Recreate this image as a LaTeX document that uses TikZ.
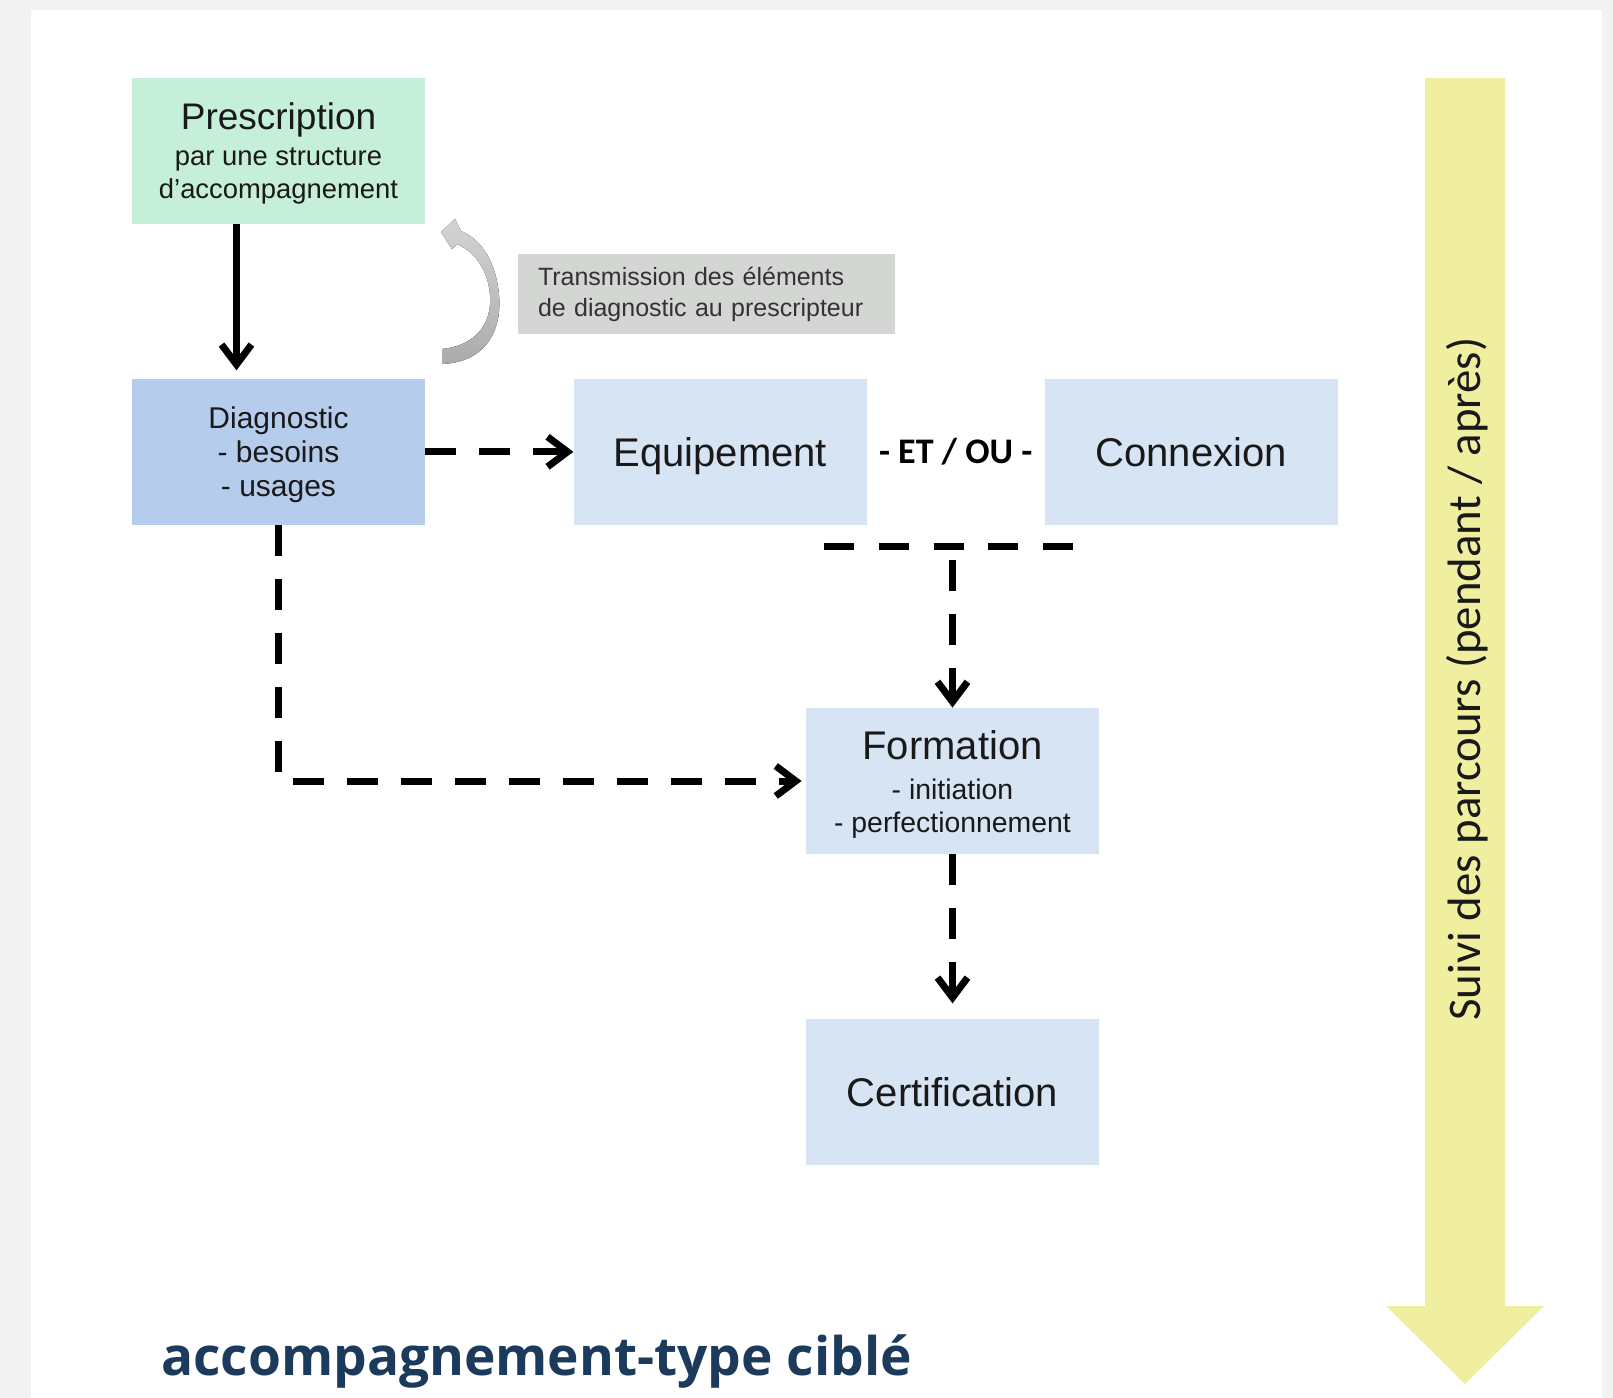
\documentclass[tikz,border=0pt]{standalone}
\usepackage{fontspec}
\setmainfont{Liberation Sans}
\newfontfamily\calibri{Carlito}
\newfontfamily\opensans{Open Sans}
\usetikzlibrary{arrows.meta,positioning,calc}
\definecolor{presc}{RGB}{198,239,217}
\definecolor{diag}{RGB}{182,204,236}
\definecolor{act}{RGB}{215,228,243}
\definecolor{note}{RGB}{211,214,211}
\definecolor{suivi}{RGB}{240,239,160}
\definecolor{titre}{RGB}{27,58,92}
\definecolor{fond}{RGB}{242,242,242}
\tikzset{
  basebox/.style = {align=center, inner sep=0pt, minimum width=146.5pt, minimum height=73pt,
    text depth=0pt, text=black!90},
  prescbox/.style = {basebox, fill=presc, font=\fontsize{13.7pt}{16.5pt}\selectfont},
  diagbox/.style = {basebox, fill=diag, font=\fontsize{15pt}{17pt}\selectfont},
  actbox/.style = {basebox, fill=act, font=\fontsize{20pt}{24pt}\selectfont},
  notebox/.style = {fill=note, align=left, inner sep=0pt, minimum width=188.5pt, minimum height=40pt,
    text width=168.5pt, font=\fontsize{12.5pt}{15.5pt}\selectfont, text=black!80},
  flow/.style = {line width=3.5pt, -{Straight Barb[length=10pt,width=15pt]}},
  dflow/.style = {flow, dash pattern=on 15.5pt off 11.5pt}
}
\begin{document}
\begin{tikzpicture}[x=0.5pt, y=-0.5pt]
\useasboundingbox (0,0) rectangle (1613,1398);
\fill[fond] (0,0) rectangle (1613,1398);
\fill[white] (31,10) rectangle (1602,1398);
% suivi du parcours
\fill[suivi] (1425,78) -- (1505,78) -- (1505,1306) -- (1544,1306) -- (1465,1384)
  -- (1386,1306) -- (1425,1306) -- cycle;
\node[rotate=90, text=black!90, font=\calibri\fontsize{23.4pt}{28pt}\selectfont] (suivi) at (1467,679)
  {Suivi des parcours (pendant / après)};
% boites
\node[prescbox] (presc) at (278.5,151)
  {{\fontsize{18.5pt}{22pt}\selectfont Prescription}\\[1.5pt] par une structure\\ d'accompagnement};
\node[diagbox, below=77pt of presc] (diag) {Diagnostic\\ - besoins\\ - usages};
\node[actbox, right=74pt of diag] (equip) {Equipement};
\node[actbox, right=88.5pt of equip] (conn) {Connexion};
\node[font=\calibri\bfseries\fontsize{18pt}{22pt}\selectfont] (etou)
  at ($(equip.east)!0.5!(conn.west)$) {- ET / OU -};
\node[actbox, font=\fontsize{14.2pt}{16.5pt}\selectfont] (form) at (952.5,781)
  {{\fontsize{20pt}{24pt}\selectfont Formation}\\[3.5pt] - initiation\\ - perfectionnement};
\node[actbox, below=82pt of form] (cert) {Certification};
\node[notebox] (trans) at (706.5,294)
  {Transmission des éléments\\ de diagnostic au prescripteur};
% retour vers le prescripteur
\fill[top color=black!17, bottom color=black!33] (442,364) .. controls (490,362) and (502,325) .. (499,295)
  .. controls (496,262) and (482,240) .. (461,231) -- (455,219) -- (441,232) -- (452,249) -- (457,244)
  .. controls (475,252) and (488,270) .. (490,295) .. controls (492,322) and (478,345) .. (442,349) -- cycle;
% liens
\coordinate (hl) at ([xshift=-21.5pt,yshift=-10.5pt]equip.south east);
\coordinate (hr) at ([xshift=14.5pt,yshift=-10.5pt]conn.south west);
\draw[flow, shorten >=4pt] ([xshift=-21pt]presc.south) -- ([xshift=-21pt]diag.north);
\draw[dflow] (diag.east) -- (equip.west);
\draw[line width=3.5pt, dash pattern=on 15pt off 12.375pt] (hl) -- (hr);
\draw[dflow, dash phase=20pt] (form.north |- hl) -- (form.north);
\draw[dflow, shorten >=7.5pt] (form.south) -- (cert.north);
\draw[dflow, shorten >=2pt] (diag.south) |- (form.west);
% titre
\node[anchor=base west, inner sep=0pt, text=titre, font=\opensans\bfseries\fontsize{26.6pt}{30pt}\selectfont]
  (titre) at (161,1375) {accompagnement-type ciblé};
\end{tikzpicture}
\end{document}
